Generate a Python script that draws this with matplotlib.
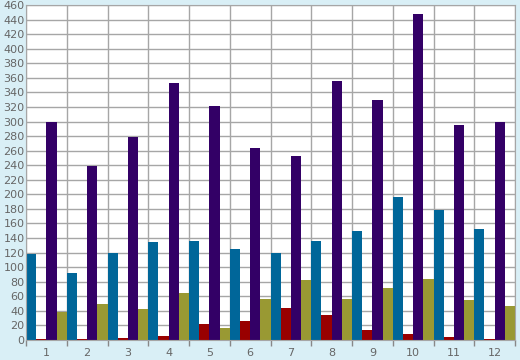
import numpy as np
import matplotlib.pyplot as plt

# Values
groups = ['1', '2', '3', '4', '5', '6', '7', '8', '9', '10', '11', '12']
blue = [118, 92, 120, 135, 136, 125, 119, 136, 150, 196, 178, 152]
red = [2, 2, 3, 5, 22, 26, 44, 34, 14, 8, 4, 2]
purple = [299, 239, 279, 353, 322, 263, 253, 355, 329, 447, 295, 300]
olive = [38, 50, 42, 64, 17, 56, 82, 56, 71, 84, 55, 47]

series = [blue, red, purple, olive]
colors = ['#006699', '#990000', '#330066', '#999933']

bg = '#d9eff6'
fig = plt.figure(figsize=(5.2, 3.6), dpi=100, facecolor=bg)
ax = fig.add_axes([26 / 520, 20 / 360, 489 / 520, 335 / 360])

x = np.arange(len(groups))
w = 0.25
for k, (vals, c) in enumerate(zip(series, colors)):
    ax.bar(x + (k - 1.5) * w, vals, width=w, color=c, zorder=2, linewidth=0)

ax.set_xlim(-0.5, len(groups) - 0.5)
ax.set_ylim(0, 460)
ax.set_yticks(np.arange(0, 461, 20))
ax.set_xticks(x)
ax.set_xticklabels(groups)
ax.set_xticks(np.arange(len(groups) + 1) - 0.5, minor=True)

ax.grid(True, axis='y', which='major', color='#a6a6a6', linewidth=1, zorder=0)
ax.grid(True, axis='x', which='minor', color='#a6a6a6', linewidth=1, zorder=0)
ax.tick_params(axis='x', which='major', length=0, labelsize=8, labelcolor='#666666', pad=6)
ax.tick_params(axis='x', which='minor', length=4, color='#888888', width=1)
ax.tick_params(axis='y', length=0, labelsize=8, labelcolor='#666666', pad=1)

for s in ax.spines.values():
    s.set_color('#a6a6a6')

plt.savefig('out.png', dpi=100, facecolor=bg)
